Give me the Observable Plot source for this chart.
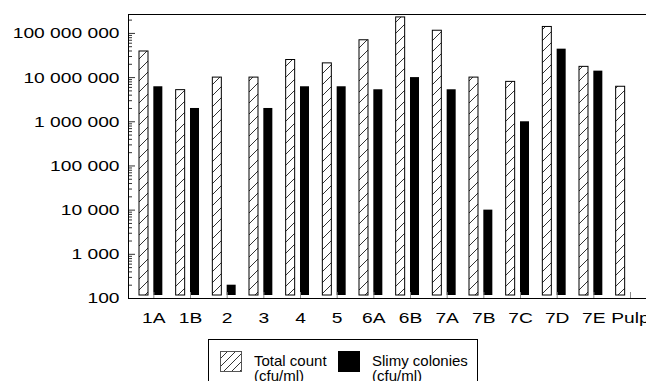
<!DOCTYPE html>
<html><head><meta charset="utf-8">
<script src="https://cdn.jsdelivr.net/npm/d3@7"></script>
<script src="https://cdn.jsdelivr.net/npm/@observablehq/plot@0.6"></script>
<style>
html,body{margin:0;padding:0;background:#fff;overflow:hidden;width:646px;height:381px;}
#chart{position:absolute;left:0;top:0;width:660px;}
#chart svg{max-width:none !important;}
.legend{position:absolute;left:208px;top:339px;width:270px;height:70px;border:1px solid #000;box-sizing:border-box;background:#fff;
  font-family:"Liberation Sans",Arial,Helvetica,sans-serif;font-size:15px;line-height:15px;color:#000;}
.legend .sw{position:absolute;top:11px;width:22px;height:21px;}
.legend .tx{position:absolute;top:13px;white-space:nowrap;}
</style>
</head><body>
<div id="chart"></div>
<div class="legend">
  <svg class="sw" style="left:11px" width="22" height="21" viewBox="0 0 22 21">
    <defs><pattern id="hatchL" patternUnits="userSpaceOnUse" width="8" height="8">
      <path d="M0,8 L8,0 M-2,2 L2,-2 M6,10 L10,6" stroke="#000" stroke-width="0.8"/></pattern></defs>
    <rect x="0.5" y="0.5" width="21" height="20" fill="url(#hatchL)" stroke="#555" stroke-width="1"/>
  </svg>
  <div class="tx" style="left:45px">Total count<br>(cfu/ml)</div>
  <div class="sw" style="left:129px;background:#000"></div>
  <div class="tx" style="left:163px">Slimy colonies<br>(cfu/ml)</div>
</div>
<script>
const categories = ["1A","1B","2","3","4","5","6A","6B","7A","7B","7C","7D","7E","Pulp"];
const totalCount = [3.9e7, 5.2e6, 1e7, 1e7, 2.5e7, 2.1e7, 7e7, 2.3e8, 1.15e8, 1e7, 8e6, 1.4e8, 1.75e7, 6.2e6];
const slimyColonies = [6.2e6, 2e6, 200, 2e6, 6.2e6, 6.2e6, 5.3e6, 1e7, 5.3e6, 1e4, 1e6, 4.4e7, 1.4e7, null];
const majorTicks = [1e2, 1e3, 1e4, 1e5, 1e6, 1e7, 1e8];
const minorTicks = [];
for (const m of majorTicks) for (let k = 2; k <= 9; k++) if (m * k <= 2.6e8) minorTicks.push(m * k);
const yMin = 100, yMax = 2.68e8;

const data = categories.map((c, i) => ({cat: c, total: totalCount[i], slimy: slimyColonies[i]}));

const W = 660, H = 334, mL = 128, mT = 14, mB = 36, mR = 0;
const innerW = W - mL - mR, innerH = H - mT - mB;
const fmt = v => d3.format(",")(v).replace(/,/g, " ");

const plot = Plot.plot({
  width: W, height: H,
  marginLeft: mL, marginTop: mT, marginBottom: mB, marginRight: mR,
  style: {fontFamily: '"Liberation Sans", Arial, Helvetica, sans-serif', fontSize: "15.5px", color: "#000", background: "#fff", maxWidth: "none"},
  x: {domain: categories, padding: 0, round: false, insetLeft: 7, insetRight: 11.67, label: null},
  y: {type: "log", domain: [yMin, yMax], label: null},
  marks: [
    Plot.barY(data, {x: "cat", y1: () => yMin, y2: "total", fill: "url(#hatch)", stroke: "#000", strokeWidth: 1,
      insetLeft: 4, insetRight: 23.67, insetBottom: 3}),
    Plot.barY(data.filter(d => d.slimy != null), {x: "cat", y1: () => yMin, y2: "slimy", fill: "#000",
      insetLeft: 18.33, insetRight: 9.33, insetBottom: 3}),
    Plot.tickX(categories, {x: d => d, insetTop: innerH - 6, stroke: "#888", strokeWidth: 1}),
    Plot.tickY(majorTicks, {y: d => d, insetRight: innerW - 7, stroke: "#333"}),
    Plot.tickY(minorTicks, {y: d => d, insetRight: innerW - 4, stroke: "#333"}),
    Plot.axisY({ticks: majorTicks, tickFormat: fmt, tickSize: 0, tickPadding: 9, fontSize: 15.5}),
    Plot.axisX({tickSize: 0, tickPadding: 13, fontSize: 15.5}),
    Plot.frame({stroke: "#000"})
  ]
});

const svg = d3.select(plot);
svg.style("max-width", "none");
const defs = svg.insert("defs", ":first-child");
const pat = defs.append("pattern").attr("id", "hatch").attr("patternUnits", "userSpaceOnUse")
  .attr("width", 11).attr("height", 11);
pat.append("path").attr("d", "M0,11 L11,0 M-2,2 L2,-2 M9,13 L13,9").attr("stroke", "#000").attr("stroke-width", 0.8);

// horizontally stretch axis tick labels around their anchor point
svg.selectAll('g[aria-label$="tick label"] text').each(function() {
  const t = this.getAttribute("transform") || "";
  this.setAttribute("transform", t + " scale(1.24,1)");
});

document.getElementById("chart").appendChild(plot);
</script>
</body></html>
